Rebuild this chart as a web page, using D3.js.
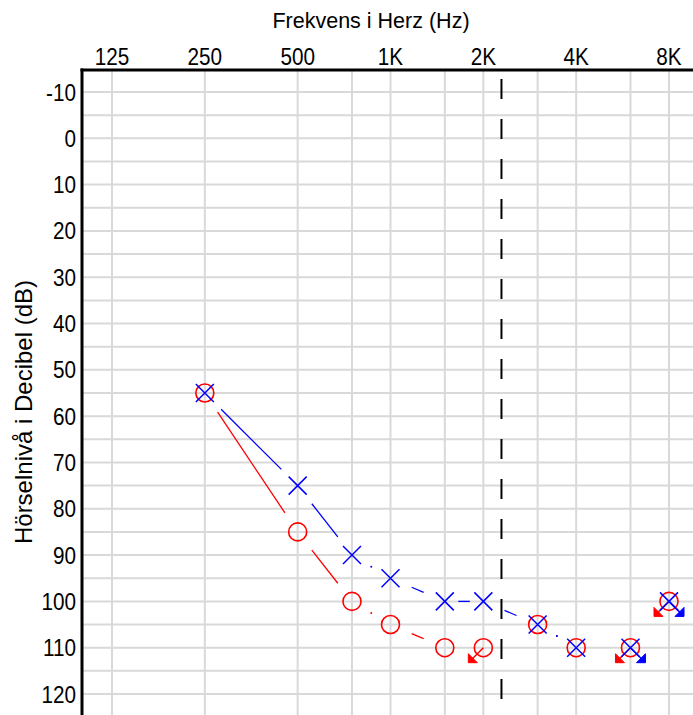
<!DOCTYPE html>
<html>
<head>
<meta charset="utf-8">
<script src="https://cdn.jsdelivr.net/npm/d3@7"></script>
<style>
  html, body { margin: 0; padding: 0; background: #fff; }
  svg { display: block; }
  .tick-label { font-family: "Liberation Sans", Arial, sans-serif; font-size: 23px; fill: #000; }
  .title { font-family: "Liberation Sans", Arial, sans-serif; fill: #000; }
</style>
</head>
<body>
<svg id="chart" width="693" height="715"></svg>
<script>
// Audiogram: hearing thresholds per frequency for right (O, red) and left (X, blue) ear.
const frequencies = [250, 500, 750, 1000, 1500, 2000, 3000, 4000, 6000, 8000];
const rightEar = [55, 85, 100, 105, 110, 110, 105, 110, 110, 100];
const rightNoResponse = [false, false, false, false, false, true, false, false, true, true];
const leftEar = [55, 75, 90, 95, 100, 100, 105, 110, 110, 100];
const leftNoResponse = [false, false, false, false, false, false, false, false, true, true];

const gridFrequencies = [125, 250, 500, 750, 1000, 1500, 2000, 3000, 4000, 6000, 8000];
const freqTickValues = [125, 250, 500, 1000, 2000, 4000, 8000];
const freqTickLabels = ["125", "250", "500", "1K", "2K", "4K", "8K"];
const dbTicks = d3.range(-10, 121, 10);
const dbGrid = d3.range(-10, 126, 5);
const referenceFrequency = 2290; // dashed vertical reference line

const svg = d3.select("#chart");
const W = 693, H = 715;
const plotLeft = 82, plotTop = 70;
const labelSqueeze = 0.9; // narrow tick-label glyphs

const x = d3.scaleLog().base(2).domain([125, 8000]).range([112, 669]);
const y = d3.scaleLinear().domain([-10, 120]).range([92, 694]);

// grid
const grid = svg.append("g").attr("stroke", "#d9d9d9").attr("stroke-width", 2);
grid.selectAll("line.h").data(dbGrid).join("line").attr("class", "h")
  .attr("x1", plotLeft).attr("x2", W).attr("y1", d => y(d)).attr("y2", d => y(d));
grid.selectAll("line.v").data(gridFrequencies).join("line").attr("class", "v")
  .attr("y1", plotTop).attr("y2", H).attr("x1", d => x(d)).attr("x2", d => x(d));

// dashed reference line
svg.append("line")
  .attr("x1", x(referenceFrequency)).attr("x2", x(referenceFrequency))
  .attr("y1", 79).attr("y2", H)
  .attr("stroke", "#000").attr("stroke-width", 2)
  .attr("stroke-dasharray", "20 20");

// axes frame
svg.append("line").attr("x1", plotLeft - 1.5).attr("x2", W).attr("y1", plotTop).attr("y2", plotTop)
  .attr("stroke", "#000").attr("stroke-width", 3);
svg.append("line").attr("x1", plotLeft).attr("x2", plotLeft).attr("y1", plotTop - 1.5).attr("y2", H)
  .attr("stroke", "#000").attr("stroke-width", 3);

// top frequency labels
svg.append("g").selectAll("text").data(freqTickValues).join("text")
  .attr("class", "tick-label")
  .attr("transform", d => `translate(${x(d)},65) scale(${labelSqueeze},1)`)
  .attr("text-anchor", "middle")
  .text((d, i) => freqTickLabels[i]);

// left dB labels
svg.append("g").selectAll("text").data(dbTicks).join("text")
  .attr("class", "tick-label")
  .attr("transform", d => `translate(76,${y(d) + 8.5}) scale(${labelSqueeze},1)`)
  .attr("text-anchor", "end")
  .text(d => d);

// titles
svg.append("text").attr("class", "title")
  .attr("x", 371).attr("y", 28).attr("text-anchor", "middle")
  .style("font-size", "21.5px")
  .text("Frekvens i Herz (Hz)");
svg.append("text").attr("class", "title")
  .attr("transform", "translate(32,412) rotate(-90)")
  .attr("text-anchor", "middle")
  .style("font-size", "24px")
  .text("Hörselnivå i Decibel (dB)");

// connectors: broken line between consecutive responses, dash centred between markers
function connectors(values, noResp, color) {
  const g = svg.append("g").attr("stroke", color).attr("fill", color);
  const gap = 23;
  for (let i = 0; i < values.length - 1; i++) {
    if (noResp[i] || noResp[i + 1]) continue;
    const x0 = x(frequencies[i]), y0 = y(values[i]);
    const x1 = x(frequencies[i + 1]), y1 = y(values[i + 1]);
    const L = Math.hypot(x1 - x0, y1 - y0);
    const ux = (x1 - x0) / L, uy = (y1 - y0) / L;
    const mx = (x0 + x1) / 2, my = (y0 + y1) / 2;
    const half = L < 40 ? L * 0.15 : Math.max(0, (L - 2 * gap) / 2);
    if (half > 1) {
      g.append("line")
        .attr("x1", mx - ux * half).attr("y1", my - uy * half)
        .attr("x2", mx + ux * half).attr("y2", my + uy * half)
        .attr("stroke-width", 1.3);
    } else {
      g.append("circle").attr("cx", mx).attr("cy", my).attr("r", 1).attr("stroke", "none");
    }
  }
}
connectors(rightEar, rightNoResponse, "#ff0000");
connectors(leftEar, leftNoResponse, "#0000ff");

// arrowhead (filled right-angle triangle) pointing diagonally
function arrow(g, cx, cy, dx, dy, color) {
  const tx = cx + dx * 15, ty = cy + dy * 15;
  g.append("line").attr("x1", cx).attr("y1", cy).attr("x2", tx - dx * 3).attr("y2", ty - dy * 3)
    .attr("stroke", color).attr("stroke-width", 1.5);
  const s = 9;
  g.append("path")
    .attr("d", `M${tx},${ty} L${tx},${ty - dy * s} L${tx - dx * s},${ty} Z`)
    .attr("fill", color).attr("stroke", color).attr("stroke-width", 1);
}

// right ear: circles
const gR = svg.append("g");
frequencies.forEach((f, i) => {
  const cx = x(f), cy = y(rightEar[i]);
  gR.append("circle").attr("cx", cx).attr("cy", cy).attr("r", 9)
    .attr("fill", "none").attr("stroke", "#ff0000").attr("stroke-width", 1.6);
  if (rightNoResponse[i]) arrow(gR, cx, cy, -1, 1, "#ff0000");
});

// left ear: crosses
const gL = svg.append("g");
frequencies.forEach((f, i) => {
  const cx = x(f), cy = y(leftEar[i]);
  const a = 9;
  gL.append("path")
    .attr("d", `M${cx - a},${cy - a} L${cx + a},${cy + a} M${cx - a},${cy + a} L${cx + a},${cy - a}`)
    .attr("stroke", "#0000ff").attr("stroke-width", 1.5).attr("fill", "none");
  if (leftNoResponse[i]) arrow(gL, cx, cy, 1, 1, "#0000ff");
});
</script>
</body>
</html>
